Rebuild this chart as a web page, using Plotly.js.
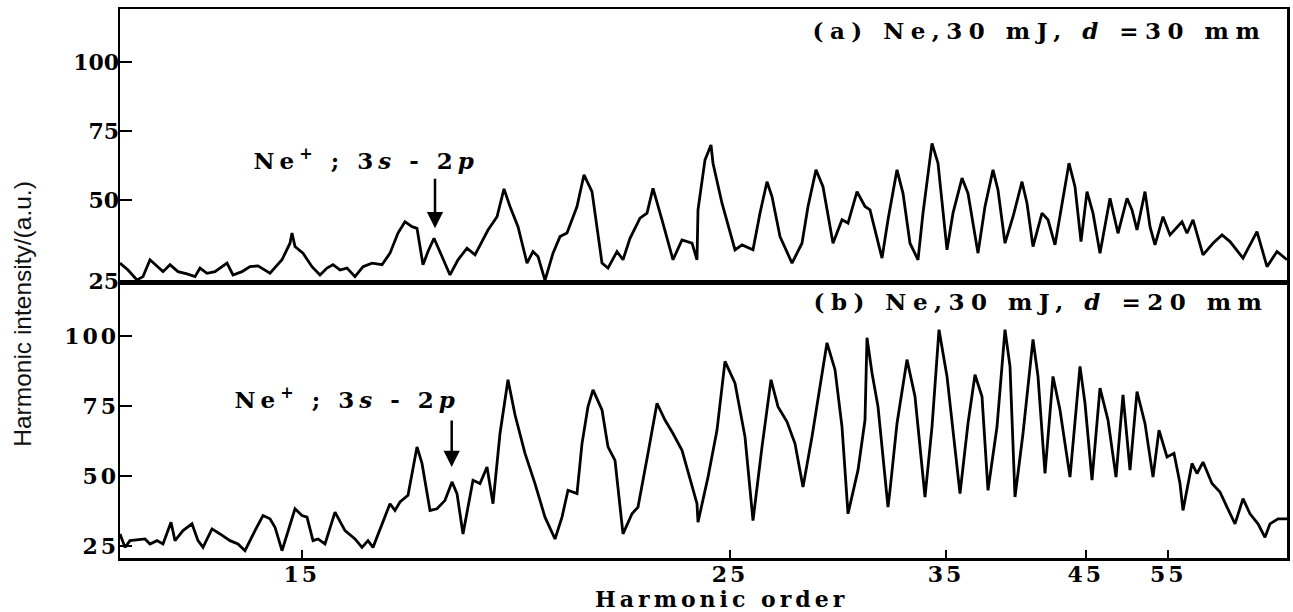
<!DOCTYPE html>
<html>
<head>
<meta charset="utf-8">
<script src="https://cdn.plot.ly/plotly-3.0.1.min.js"></script>
<style>
  html, body { margin: 0; padding: 0; background: #fff; }
  #chart { width: 1293px; height: 612px; }
  .xtick text, .ytick text { letter-spacing: 3px; }
  .annotation[data-index="1"] text { letter-spacing: 4px; }
  .annotation[data-index="2"] text, .annotation[data-index="3"] text { letter-spacing: 6.5px; }
  .annotation[data-index="4"] text, .annotation[data-index="5"] text { letter-spacing: 5px; }
</style>
</head>
<body>
<div id="chart"></div>
<script>
// Detector position (channel) along the spectrum and intensity, panel (a): d = 30 mm
const xTop = [0,8,17,23,30,37,43,50,58,67,75,80,87,95,107,113,122,130,138,150,162,170,172,175,183,192,200,207,213,220,227,235,243,252,262,270,278,285,292,297,303,308,314,322,330,338,347,355,368,377,384,390,398,407,413,418,425,433,440,447,457,464,472,482,488,497,503,510,520,527,533,542,553,562,572,577,578,585,591,593,602,615,622,633,640,647,652,660,672,682,688,696,703,713,722,728,737,745,750,762,768,777,783,790,798,803,812,818,827,833,842,848,858,865,873,878,885,893,902,907,913,922,928,935,943,949,955,961,967,973,980,990,998,1007,1012,1017,1025,1030,1035,1043,1050,1062,1067,1073,1083,1093,1102,1110,1123,1137,1147,1157,1167];
const yTop = [27.1,24.6,21.0,22.2,28.3,25.8,24.0,26.5,24.0,23.2,22.2,25.3,23.4,24.0,27.1,22.8,24.0,25.8,26.1,23.4,28.3,34.3,38.0,33.1,30.7,25.8,22.8,25.3,26.5,24.6,25.3,22.2,25.8,27.1,26.5,30.7,38.0,42.1,40.3,39.7,26.5,31.3,36.1,29.5,22.8,28.3,32.5,30.1,39.1,43.9,54.0,47.6,40.3,27.1,31.3,29.5,20.8,30.7,36.7,38.0,47.6,59.1,53.0,27.1,25.3,31.3,28.3,36.1,43.4,45.2,54.2,42.8,28.3,35.5,34.3,28.3,46.4,64.5,69.9,63.3,48.8,31.9,33.7,31.9,45.2,56.6,51.2,36.7,27.1,34.3,47.6,60.9,54.8,34.3,42.8,41.6,53.0,47.6,46.4,28.9,42.8,60.9,52.4,34.3,28.3,45.2,70.5,63.3,31.9,45.2,57.9,52.4,30.7,47.6,60.9,53.6,34.3,43.9,56.6,48.8,33.1,45.2,42.8,33.7,50.0,63.3,54.8,34.9,53.0,45.2,30.7,50.6,37.9,50.6,46.4,39.1,53.0,40.3,33.7,43.9,37.3,42.1,37.9,42.8,30.1,34.3,37.3,34.9,28.9,38.5,25.8,31.3,28.3];

// Panel (b): d = 20 mm
const xBot = [0,5,10,17,25,30,37,43,51,55,63,72,78,83,92,100,110,118,125,135,143,150,155,162,168,175,182,187,193,198,205,215,225,235,242,248,253,262,270,275,280,288,297,302,310,317,325,332,337,343,353,360,367,373,380,388,395,405,415,425,435,442,448,457,462,468,473,482,488,495,503,512,518,528,537,545,553,562,577,578,588,597,605,615,625,633,642,651,658,667,675,683,692,700,707,715,722,728,738,745,747,752,758,768,770,777,787,795,805,812,819,827,840,848,855,862,868,877,885,890,895,903,913,918,925,933,940,950,960,965,972,980,988,996,1003,1010,1017,1025,1033,1039,1047,1054,1060,1063,1072,1077,1083,1092,1100,1107,1115,1123,1130,1138,1145,1150,1158,1167];
const yBot = [29.4,24.6,27.0,27.3,27.6,25.8,27.0,25.8,33.6,27.0,30.6,33.0,27.0,24.6,31.2,29.4,27.0,25.8,23.4,30.6,36.0,34.8,31.8,23.4,30.6,38.4,36.0,35.4,27.0,27.6,25.8,37.2,30.6,27.6,24.6,27.0,24.6,33.0,40.2,37.8,40.8,43.2,60.5,54.6,37.8,38.4,41.4,48.0,43.8,29.4,48.6,47.4,53.3,40.2,65.3,84.5,72.0,58.2,47.4,35.4,27.6,35.4,45.0,43.8,61.7,74.9,80.9,73.7,60.5,55.7,29.4,36.6,39.0,58.2,76.1,70.1,65.3,59.3,40.2,33.6,49.7,66.5,91.1,83.3,64.1,34.2,60.5,84.5,74.9,69.5,61.7,46.2,64.1,82.1,97.7,88.1,67.7,36.6,52.2,70.1,99.5,86.9,74.9,39.0,45.0,68.9,91.7,78.5,42.6,67.7,102.4,85.7,43.8,68.9,86.3,78.5,45.0,67.7,102.4,89.3,42.6,65.3,98.9,85.7,51.0,85.7,73.7,49.7,89.3,76.1,48.6,81.5,70.1,49.7,79.1,52.2,80.3,68.9,49.7,66.5,56.9,58.2,47.4,37.8,54.6,51.0,55.1,47.4,44.4,39.0,33.0,42.0,36.6,33.0,28.2,33.0,34.8,34.8];

// Harmonic-order tick labels and their channel positions on the detector
const orderTickPos = [181.7, 610, 826, 965.7, 1048.3];
const orderTickText = ['15', '25', '35', '45', '55'];
// Intensity ticks
const yTickTextA = ['25', '50', '75', '100'];
const yTickValsA = [20.4, 50, 75, 100];
const yTickTextB = ['25', '50', '75', '100'];
const yTickValsB = [25, 50, 75, 100];

const serif = {family: 'DejaVu Serif, Liberation Serif, serif', size: 22, color: '#000', weight: 700};
const lineStyle = {color: '#000', width: 2.8};

const traces = [
  {x: xTop, y: yTop, xaxis: 'x2', yaxis: 'y2', mode: 'lines', line: lineStyle, hoverinfo: 'skip'},
  {x: xBot, y: yBot, xaxis: 'x', yaxis: 'y', mode: 'lines', line: lineStyle, hoverinfo: 'skip'}
];

const axisCommon = {
  showline: true, linecolor: '#000', linewidth: 2.5, mirror: true,
  showgrid: false, zeroline: false, tickcolor: '#000', tickwidth: 2
};

const layout = {
  width: 1293, height: 612,
  margin: {l: 120, r: 6, t: 9, b: 54},
  paper_bgcolor: '#fff', plot_bgcolor: '#fff',
  showlegend: false,
  xaxis: Object.assign({}, axisCommon, {
    domain: [0, 1], anchor: 'y', range: [0, 1167],
    tickmode: 'array', tickvals: orderTickPos, ticktext: orderTickText,
    ticks: 'inside', ticklen: 8, tickfont: serif, ticklabelstandoff: -5
  }),
  xaxis2: Object.assign({}, axisCommon, {
    domain: [0, 1], anchor: 'y2', range: [0, 1167], matches: 'x',
    showticklabels: false, ticks: ''
  }),
  yaxis: Object.assign({}, axisCommon, {
    domain: [0, 0.501], anchor: 'x', range: [20.8, 119.1],
    tickmode: 'array', tickvals: yTickValsB, ticktext: yTickTextB,
    ticks: 'inside', ticklen: 12, tickfont: serif, ticklabelstandoff: -6
  }),
  yaxis2: Object.assign({}, axisCommon, {
    domain: [0.501, 1], anchor: 'x2', range: [19.9, 119.2],
    tickmode: 'array', tickvals: yTickValsA, ticktext: yTickTextA,
    ticks: 'inside', ticklen: 12, tickfont: serif, ticklabelstandoff: -6
  }),
  annotations: [
    {text: 'Harmonic intensity/(a.u.)', xref: 'paper', yref: 'paper', x: -0.0831, y: 0.445,
     xanchor: 'center', yanchor: 'middle', textangle: -90, showarrow: false,
     font: {family: 'Liberation Sans, Arial, sans-serif', size: 24.5, color: '#111'}},
    {text: 'Harmonic order', xref: 'paper', yref: 'paper', x: 0.5159, y: -0.0747,
     xanchor: 'center', yanchor: 'middle', showarrow: false, font: Object.assign({}, serif, {size: 22})},
    {text: '(a) Ne,30 mJ, <i>d</i> =30 mm', xref: 'paper', yref: 'paper', x: 0.7875, y: 0.9617,
     xanchor: 'center', yanchor: 'middle', showarrow: false, font: Object.assign({}, serif, {size: 23})},
    {text: '(b) Ne,30 mJ, <i>d</i> =20 mm', xref: 'paper', yref: 'paper', x: 0.7896, y: 0.4681,
     xanchor: 'center', yanchor: 'middle', showarrow: false, font: Object.assign({}, serif, {size: 23})},
    {text: 'Ne<sup>+</sup> ; 3<i>s</i> - 2<i>p</i>', xref: 'paper', yref: 'paper', x: 0.2112, y: 0.7268,
     xanchor: 'center', yanchor: 'middle', showarrow: false, font: Object.assign({}, serif, {size: 23})},
    {text: 'Ne<sup>+</sup> ; 3<i>s</i> - 2<i>p</i>', xref: 'paper', yref: 'paper', x: 0.1949, y: 0.2914,
     xanchor: 'center', yanchor: 'middle', showarrow: false, font: Object.assign({}, serif, {size: 23})},
    {text: '', xref: 'x2', yref: 'y2', x: 315, y: 39.7, showarrow: true, ax: 0, ay: -51,
     arrowhead: 2, arrowsize: 1.3, arrowwidth: 2.5, arrowcolor: '#000'},
    {text: '', xref: 'x', yref: 'y', x: 331.7, y: 53.3, showarrow: true, ax: 0, ay: -48,
     arrowhead: 2, arrowsize: 1.3, arrowwidth: 2.5, arrowcolor: '#000'}
  ]
};

Plotly.newPlot('chart', traces, layout, {displayModeBar: false, staticPlot: true});
</script>
</body>
</html>
